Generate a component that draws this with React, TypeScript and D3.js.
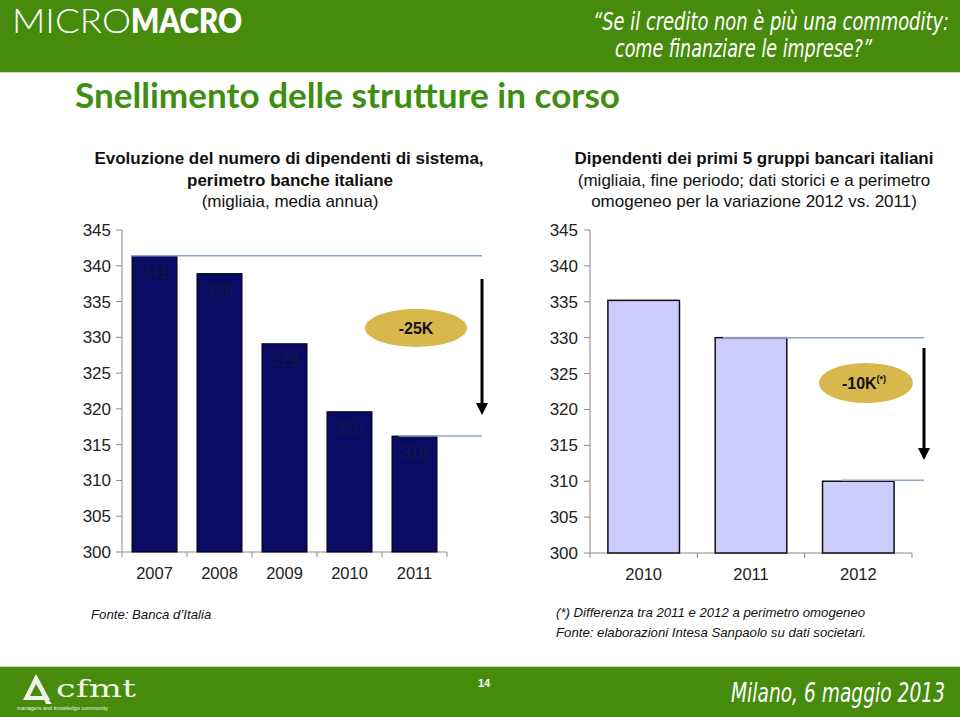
import { useEffect } from 'react';
import * as d3 from 'd3';

// left chart: system headcount, Italian banks (thousands, yearly average)
const sysYears = ['2007', '2008', '2009', '2010', '2011'];
const sysValues = [341.4, 338.9, 329.1, 319.6, 316.2];
const sysLabels = ['341', '339', '329', '320', '316'];

// right chart: top 5 banking groups (thousands, end of period)
const topYears = ['2010', '2011', '2012'];
const topValues = [335.2, 330.0, 310.0];

const yTicks = [300, 305, 310, 315, 320, 325, 330, 335, 340, 345];

const GREEN = '#478b0d';
const TITLE_GREEN = '#3e8e12';
const NAVY = '#0b0b66';
const LAVENDER = '#ccccff';
const GOLD = '#d8b84c';
const REF_LINE = '#8fa6c6';
const AXIS = '#8a8a8a';
const FONT = 'Liberation Sans, Arial, sans-serif';
const COND = '"DejaVu Sans Condensed", "DejaVu Sans", sans-serif';

function YAxis({ y, x, labelX }: { y: d3.ScaleLinear<number, number>; x: number; labelX: number }) {
  const [lo, hi] = y.range();
  return (
    <g>
      <line x1={x} x2={x} y1={hi} y2={lo} stroke={AXIS} strokeWidth={1} />
      {yTicks.map((t) => (
        <g key={t}>
          <line x1={x - 6} x2={x} y1={y(t)} y2={y(t)} stroke={AXIS} strokeWidth={1} />
          <text x={labelX} y={y(t) + 6} textAnchor="end" fontSize={17} fill="#222" fontFamily={FONT}>
            {t}
          </text>
        </g>
      ))}
    </g>
  );
}

function XAxis({ xs, y0 }: { xs: d3.ScaleBand<string>; y0: number }) {
  const [a, b] = xs.range();
  const step = xs.step();
  const edges = d3.range(xs.domain().length + 1).map((i) => a + i * step);
  return (
    <g>
      <line x1={a} x2={b} y1={y0} y2={y0} stroke={AXIS} strokeWidth={1} />
      {edges.map((e, i) => (
        <line key={i} x1={e} x2={e} y1={y0} y2={y0 + 5} stroke={AXIS} strokeWidth={1} />
      ))}
      {xs.domain().map((d) => (
        <text
          key={d}
          x={(xs(d) ?? 0) + xs.bandwidth() / 2}
          y={y0 + 27}
          textAnchor="middle"
          fontSize={16.5}
          fill="#222"
          fontFamily={FONT}
        >
          {d}
        </text>
      ))}
    </g>
  );
}

function Arrow({ x, y1, y2 }: { x: number; y1: number; y2: number }) {
  return (
    <g>
      <line x1={x} x2={x} y1={y1} y2={y2 - 10} stroke="#000" strokeWidth={3} />
      <path d={`M${x - 6},${y2 - 12} L${x + 6},${y2 - 12} L${x},${y2} Z`} fill="#000" />
    </g>
  );
}

// tall condensed italic text: drawn small, then stretched vertically
function TallText({ x, y, w, children, size = 17, sy = 1.45 }: { x: number; y: number; w: number; children: string; size?: number; sy?: number }) {
  return (
    <g transform={`translate(${x},${y}) scale(1,${sy})`}>
      <text x={0} y={0} fontFamily={COND} fontStyle="italic" fontSize={size} fill="#fff" textLength={w} lengthAdjust="spacingAndGlyphs">
        {children}
      </text>
    </g>
  );
}

export default function App() {
  useEffect(() => {
    document.body.style.margin = '0';
  }, []);

  // left chart scales
  const yL = d3.scaleLinear().domain([300, 345]).range([552, 230]);
  const xL = d3.scaleBand<string>().domain(sysYears).range([122, 447]).paddingInner(0.3077).paddingOuter(0.154);

  // right chart scales
  const yR = d3.scaleLinear().domain([300, 345]).range([553, 230]);
  const xR = d3.scaleBand<string>().domain(topYears).range([590, 912]).paddingInner(0.333).paddingOuter(0.1667);

  const lastL = sysValues.length - 1;
  const lastR = topValues.length - 1;

  return (
    <svg
      width={960}
      height={717}
      viewBox="0 0 960 717"
      style={{ position: 'absolute', left: 0, top: 0, display: 'block', background: '#fff' }}
    >
      {/* header band */}
      <rect x={0} y={0} width={960} height={72} fill={GREEN} />
      <line x1={0} x2={960} y1={72.5} y2={72.5} stroke="#c9d9b8" strokeWidth={1} />
      <text x={12} y={33} fontFamily="Lato, sans-serif" fontSize={34} fill="#fff">
        <tspan fontWeight={300} textLength={119} lengthAdjust="spacingAndGlyphs">MICRO</tspan>
        <tspan fontWeight={800} textLength={111} lengthAdjust="spacingAndGlyphs">MACRO</tspan>
      </text>
      <TallText x={593} y={30} w={356}>“Se il credito non è più una commodity:</TallText>
      <TallText x={615} y={57} w={257}>come finanziare le imprese?”</TallText>

      {/* slide title */}
      <text
        x={75}
        y={108}
        fontFamily="Lato, sans-serif"
        fontWeight={700}
        fontSize={34}
        fill={TITLE_GREEN}
        textLength={545}
        lengthAdjust="spacingAndGlyphs"
      >
        Snellimento delle strutture in corso
      </text>

      {/* chart titles */}
      <g fontFamily={FONT} fontSize={17} fill="#111" textAnchor="middle">
        <text x={289} y={164} fontWeight={700}>Evoluzione del numero di dipendenti di sistema,</text>
        <text x={290} y={186} fontWeight={700}>perimetro banche italiane</text>
        <text x={290} y={207}>(migliaia, media annua)</text>
        <text x={754} y={164} fontWeight={700}>Dipendenti dei primi 5 gruppi bancari italiani</text>
        <text x={754} y={186}>(migliaia, fine periodo; dati storici e a perimetro</text>
        <text x={754} y={207}>omogeneo per la variazione 2012 vs. 2011)</text>
      </g>

      {/* left chart */}
      <YAxis y={yL} x={122} labelX={111} />
      <XAxis xs={xL} y0={552} />
      {sysYears.map((d, i) => (
        <g key={d}>
          <rect
            x={xL(d)}
            y={yL(sysValues[i])}
            width={xL.bandwidth()}
            height={yL(300) - yL(sysValues[i])}
            fill={NAVY}
            stroke="#000"
            strokeWidth={1}
          />
          <text
            x={(xL(d) ?? 0) + xL.bandwidth() / 2}
            y={yL(sysValues[i]) + 22}
            textAnchor="middle"
            fontSize={16}
            fill="#17173f"
            fontFamily={FONT}
          >
            {sysLabels[i]}
          </text>
        </g>
      ))}
      <line x1={xL(sysYears[0])} x2={482} y1={yL(sysValues[0])} y2={yL(sysValues[0])} stroke={REF_LINE} strokeWidth={1.5} />
      <line x1={(xL(sysYears[lastL]) ?? 0) + 7} x2={482} y1={yL(sysValues[lastL])} y2={yL(sysValues[lastL])} stroke={REF_LINE} strokeWidth={1.5} />
      <Arrow x={482} y1={279} y2={415} />
      <ellipse cx={416} cy={328} rx={51} ry={19} fill={GOLD} />
      <text x={416} y={334} textAnchor="middle" fontFamily={FONT} fontWeight={700} fontSize={16} fill="#111">
        -25K
      </text>

      {/* right chart */}
      <YAxis y={yR} x={590} labelX={578} />
      <XAxis xs={xR} y0={553} />
      {topYears.map((d, i) => (
        <rect
          key={d}
          x={xR(d)}
          y={yR(topValues[i])}
          width={xR.bandwidth()}
          height={yR(300) - yR(topValues[i])}
          fill={LAVENDER}
          stroke="#111"
          strokeWidth={1.5}
        />
      ))}
      <line x1={723} x2={924} y1={yR(topValues[1])} y2={yR(topValues[1])} stroke={REF_LINE} strokeWidth={1.5} />
      <line x1={841} x2={924} y1={yR(topValues[lastR]) - 1} y2={yR(topValues[lastR]) - 1} stroke={REF_LINE} strokeWidth={1.5} />
      <Arrow x={924} y1={348} y2={460} />
      <ellipse cx={866} cy={383} rx={47} ry={20} fill={GOLD} />
      <text x={864} y={389} textAnchor="middle" fontFamily={FONT} fontWeight={700} fontSize={16} fill="#111">
        -10K
        <tspan fontSize={9} dy={-7}>(*)</tspan>
      </text>

      {/* footnotes */}
      <g fontFamily={FONT} fontStyle="italic" fill="#111" fontSize={13.2}>
        <text x={91} y={618.5}>Fonte: Banca d’Italia</text>
        <text x={556} y={616.5}>(*) Differenza tra 2011 e 2012 a perimetro omogeneo</text>
        <text x={556} y={636.5}>Fonte: elaborazioni Intesa Sanpaolo su dati societari.</text>
      </g>

      {/* footer band */}
      <line x1={0} x2={960} y1={666.5} y2={666.5} stroke="#c9d9b8" strokeWidth={1} />
      <rect x={0} y={667} width={960} height={50} fill={GREEN} />
      <path d="M36,674 L23,700 L50,700 Z M36,684 L30,696 L43,696 Z" fill="#eef4e6" fillRule="evenodd" />
      <path d="M40,690 L52,704 L46,704 Z" fill="#eef4e6" />
      <text x={56} y={697} fontFamily="DejaVu Serif, serif" fontSize={25} fill="#eef4e6" textLength={80} lengthAdjust="spacingAndGlyphs">
        cfmt
      </text>
      <text x={17} y={710} fontFamily={FONT} fontSize={5.5} fill="#eef4e6">
        managers   and knowledge community
      </text>
      <text x={484} y={687} textAnchor="middle" fontFamily={FONT} fontWeight={700} fontSize={11} fill="#fff">
        14
      </text>
      <TallText x={731} y={702} w={214} size={18} sy={1.45}>Milano, 6 maggio 2013</TallText>
    </svg>
  );
}
